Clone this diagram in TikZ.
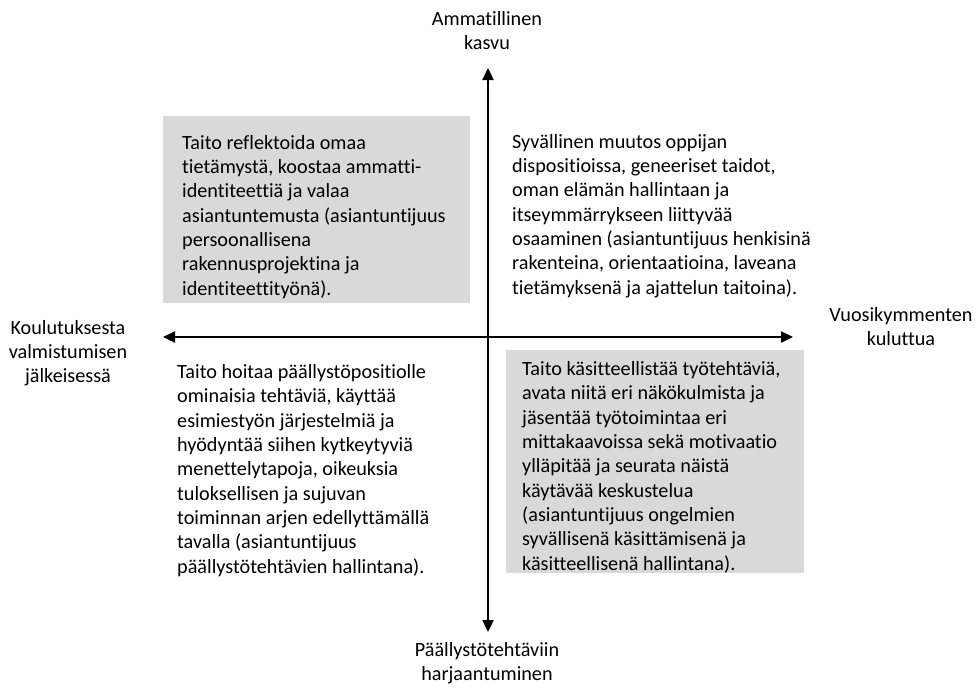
\documentclass[tikz,border=0pt]{standalone}
\usepackage{fontspec}
\setmainfont{Carlito}[Ligatures=NoCommon]
\usetikzlibrary{arrows.meta}
\definecolor{boxgray}{HTML}{D9D9D9}
\tikzset{
  axis/.style={line width=2.3pt,{Triangle[length=12pt,width=11pt]}-{Triangle[length=12pt,width=11pt]}},
  quadtext/.style={anchor=base west,align=left,inner sep=0pt,font=\fontsize{20.2}{24.3}\selectfont},
  axislabel/.style={anchor=base,align=center,inner sep=0pt,font=\fontsize{20.2}{24}\selectfont},
  graybox/.style={anchor=north west,fill=boxgray,inner sep=0pt}
}
\begin{document}
\begin{tikzpicture}[x=1pt,y=-1pt]
        \useasboundingbox (0,0) rectangle (975,689);
        %% gray boxes
        \node[graybox,minimum width=307pt,minimum height=187pt] (boxTL) at (163,116) {};
        \node[graybox,minimum width=298pt,minimum height=223pt] (boxBR) at (506,350) {};
        %% axes
        \coordinate (north) at (488,68);
        \coordinate (south) at (488,632);
        \coordinate (west) at (163,337);
        \coordinate (east) at (793,337);
        \draw[axis] (south) -- (north);
        \draw[axis] (west) -- (east);
        %% axis labels (anchored at the baseline of the last line)
        \node[axislabel] (growth) at (487,49) {Ammatillinen\\kasvu};
        \node[axislabel] (training) at (487,680) {Päällystötehtäviin\\harjaantuminen};
        \node[axislabel] (graduation) at (68,382) {Koulutuksesta\\valmistumisen\\jälkeisessä};
        \node[axislabel] (decades) at (901,345) {Vuosikymmenten\\kuluttua};
        %% quadrant texts
        \node[quadtext] (reflect) at (182,295) {Taito reflektoida omaa\\tietämystä, koostaa ammatti-\\identiteettiä ja valaa\\asiantuntemusta (asiantuntijuus\\persoonallisena\\rakennusprojektina ja\\identiteettityönä).};
        \node[quadtext] (change) at (512,294) {Syvällinen muutos oppijan\\dispositioissa, geneeriset taidot,\\oman elämän hallintaan ja\\itseymmärrykseen liittyvää\\osaaminen (asiantuntijuus henkisinä\\rakenteina, orientaatioina, laveana\\tietämyksenä ja ajattelun taitoina).};
        \node[quadtext] (manage) at (177,573) {Taito hoitaa päällystöpositiolle\\ominaisia tehtäviä, käyttää\\esimiestyön järjestelmiä ja\\hyödyntää siihen kytkeytyviä\\menettelytapoja, oikeuksia\\tuloksellisen ja sujuvan\\toiminnan arjen edellyttämällä\\tavalla (asiantuntijuus\\päällystötehtävien hallintana).};
        \node[quadtext] (concept) at (522,570) {Taito käsitteellistää työtehtäviä,\\avata niitä eri näkökulmista ja\\jäsentää työtoimintaa eri\\mittakaavoissa sekä motivaatio\\ylläpitää ja seurata näistä\\käytävää keskustelua\\(asiantuntijuus ongelmien\\syvällisenä käsittämisenä ja\\käsitteellisenä hallintana).};
    \end{tikzpicture}
\end{document}
